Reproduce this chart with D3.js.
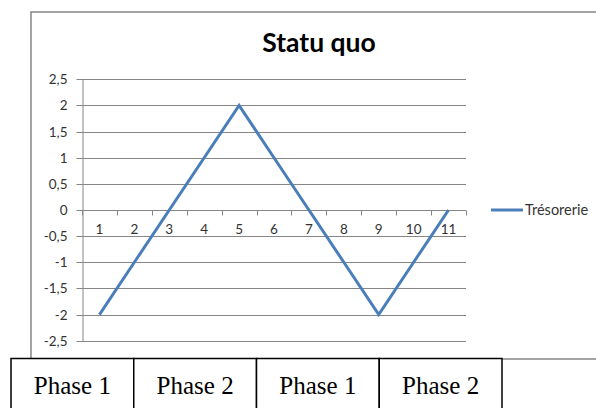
<!DOCTYPE html>
<html>
<head>
<meta charset="utf-8">
<script src="https://cdn.jsdelivr.net/npm/d3@7"></script>
<style>
body { margin: 0; background: #fff; }
svg { display: block; }
.axis text { font-family: Lato, "Open Sans", sans-serif; font-size: 13.5px; fill: #333; }
.axis path, .axis line { stroke: #868686; }
</style>
</head>
<body>
<script>
//chart data
var categories = ["1", "2", "3", "4", "5", "6", "7", "8", "9", "10", "11"];
var tresorerie = [-2, -1, 0, 1, 2, 1, 0, -1, -2, -1, 0];
var yTicks = [-2.5, -2, -1.5, -1, -0.5, 0, 0.5, 1, 1.5, 2, 2.5];
var phases = ["Phase 1", "Phase 2", "Phase 1", "Phase 2"];
var title = "Statu quo";
var seriesName = "Trésorerie";

var width = 596, height = 408;

var svg = d3.select("body").append("svg")
	.attr("width", width)
	.attr("height", height);

//chart frame (right side runs off the page)
svg.append("rect")
	.attr("x", 31)
	.attr("y", 12)
	.attr("width", 700)
	.attr("height", 347)
	.attr("fill", "#fff")
	.attr("stroke", "#868686")
	.attr("stroke-width", 1.5);

var x = d3.scaleBand()
	.domain(categories)
	.range([82, 466]);

var y = d3.scaleLinear()
	.domain([-2.5, 2.5])
	.range([340.7, 79.3]);

var fr = d3.formatLocale({decimal: ",", thousands: " ", grouping: [3], currency: ["", "€"], minus: "-"});
var fmt = fr.format("");

//gridlines
svg.append("g")
	.selectAll("line")
	.data(yTicks)
	.enter()
	.append("line")
	.attr("x1", 82)
	.attr("x2", 466)
	.attr("y1", function(d){ return Math.round(y(d)) + 0.5; })
	.attr("y2", function(d){ return Math.round(y(d)) + 0.5; })
	.attr("stroke", "#868686")
	.attr("stroke-width", 1);

//y axis
var yAxis = d3.axisLeft(y)
	.tickValues(yTicks)
	.tickFormat(fmt)
	.tickSizeInner(6)
	.tickSizeOuter(0)
	.tickPadding(9);

svg.append("g")
	.attr("class", "axis")
	.attr("transform", "translate(82.5,0)")
	.call(yAxis)
	.selectAll(".tick")
	.attr("transform", function(d){ return "translate(0," + (Math.round(y(d)) + 0.5) + ")"; });

//x axis at zero
var y0 = Math.round(y(0)) + 0.5;
var xAxis = d3.axisBottom(x)
	.tickSize(0)
	.tickPadding(14);

var xg = svg.append("g")
	.attr("class", "axis")
	.attr("transform", "translate(0," + y0 + ")")
	.call(xAxis);
xg.select(".domain").remove();

xg.append("line")
	.attr("x1", 82)
	.attr("x2", 466)
	.attr("stroke", "#868686");

xg.selectAll(".sep")
	.data(d3.range(categories.length + 1))
	.enter()
	.append("line")
	.attr("class", "sep")
	.attr("x1", function(i){ return Math.round(82 + i * x.step()) + 0.5; })
	.attr("x2", function(i){ return Math.round(82 + i * x.step()) + 0.5; })
	.attr("y1", 0)
	.attr("y2", 5)
	.attr("stroke", "#868686");

//series line
var line = d3.line()
	.x(function(d, i){ return x(categories[i]) + x.bandwidth() / 2; })
	.y(function(d){ return y(d); });

svg.append("path")
	.datum(tresorerie)
	.attr("d", line)
	.attr("fill", "none")
	.attr("stroke", "#4a7ebb")
	.attr("stroke-width", 3)
	.attr("stroke-linejoin", "miter");

//title
svg.append("text")
	.attr("x", 319)
	.attr("y", 52)
	.attr("text-anchor", "middle")
	.style("font-family", "Lato, 'Open Sans', sans-serif")
	.style("font-weight", "bold")
	.style("font-size", "26.5px")
	.text(title);

//legend
svg.append("line")
	.attr("x1", 491)
	.attr("x2", 523)
	.attr("y1", 210)
	.attr("y2", 210)
	.attr("stroke", "#4a7ebb")
	.attr("stroke-width", 3);

svg.append("text")
	.attr("x", 525)
	.attr("y", 215)
	.style("font-family", "Lato, 'Open Sans', sans-serif")
	.style("font-size", "14.5px")
	.style("fill", "#333")
	.text(seriesName);

//phase table
var cellX = d3.scaleBand()
	.domain(d3.range(phases.length))
	.range([11, 502]);

var cells = svg.append("g")
	.selectAll("g")
	.data(phases)
	.enter()
	.append("g");

cells.append("rect")
	.attr("x", function(d, i){ return cellX(i); })
	.attr("y", 358.5)
	.attr("width", cellX.bandwidth())
	.attr("height", 60)
	.attr("fill", "#fff")
	.attr("stroke", "#000")
	.attr("stroke-width", 1.5);

cells.append("text")
	.attr("x", function(d, i){ return cellX(i) + cellX.bandwidth() / 2; })
	.attr("y", 394)
	.attr("text-anchor", "middle")
	.style("font-family", "'Liberation Serif', 'Times New Roman', serif")
	.style("font-size", "25px")
	.text(function(d){ return d; });
</script>
</body>
</html>
